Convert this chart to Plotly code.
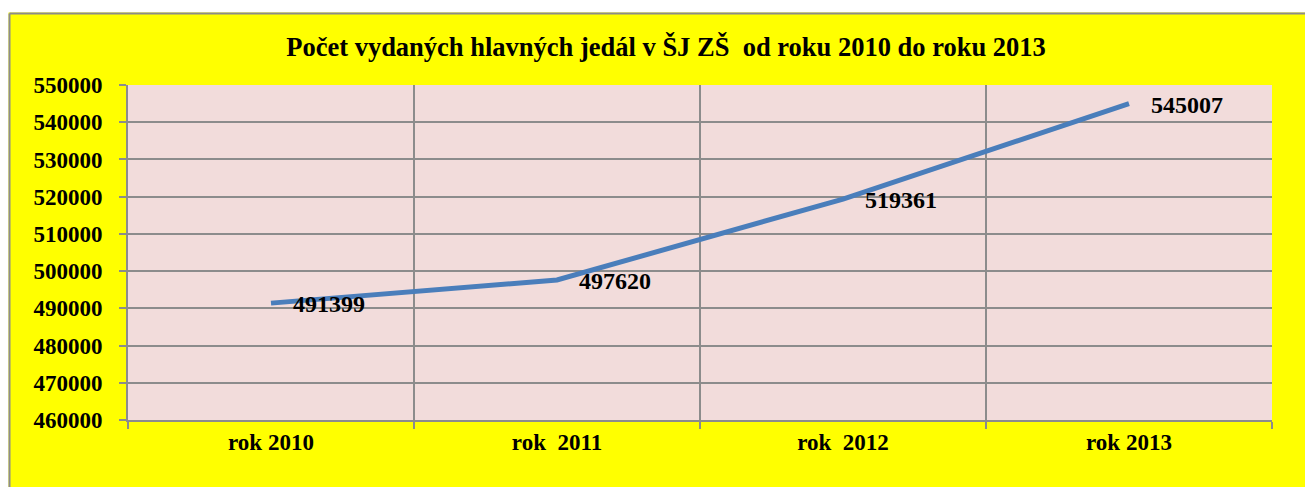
import plotly.graph_objects as go

categories = ["rok 2010", "rok  2011", "rok  2012", "rok 2013"]
values = [491399, 497620, 519361, 545007]
y_ticks = [460000, 470000, 480000, 490000, 500000, 510000, 520000, 530000, 540000, 550000]
title_text = "Počet vydaných hlavných jedál v ŠJ ZŠ  od roku 2010 do roku 2013"

OFF = 8  # page body margin
W, H = 1313, 487 - OFF
L, R = 120, 1313 - 1264
T, B = 77, 67
pw, ph = W - L - R, H - T - B

def px(x):
    return (x - L) / pw

def py(y):
    return (H - B - y) / ph

font_fam = "Liberation Serif, Times New Roman, serif"
grid_col = "#8c8c8c"

xs = list(range(len(categories)))

fig = go.Figure()
fig.add_trace(go.Scatter(
    x=xs, y=values, mode="lines",
    line=dict(color="#4A7EBB", width=5),
    hoverinfo="skip",
))

annotations = [
    dict(x=x, y=v, xref="x", yref="y", text="<b>%d</b>" % v,
         showarrow=False, xanchor="left", yanchor="middle", xshift=20, yshift=-1,
         font=dict(family=font_fam, size=24, color="black"))
    for x, v in zip(xs, values)
]

fig.update_layout(
    width=W, height=H,
    margin=dict(l=L, r=R, t=T, b=B),
    paper_bgcolor="#FFFF00",
    plot_bgcolor="#F2DCDB",
    showlegend=False,
    annotations=annotations,
    title=dict(
        text="<b>" + title_text + "</b>",
        x=658 / W, xanchor="center", xref="container",
        y=1 - 39 / H, yanchor="middle", yref="container",
        font=dict(family=font_fam, size=26.5, color="black"),
    ),
    xaxis=dict(
        range=[-0.5, len(categories) - 0.5],
        tickvals=xs, ticktext=["<b>%s</b>" % c for c in categories],
        showgrid=False, ticks="",
        tickfont=dict(family=font_fam, size=23, color="black"),
        showline=True, linecolor=grid_col, linewidth=2,
        minor=dict(tick0=-0.5, dtick=1, showgrid=True, gridcolor=grid_col,
                   gridwidth=1.5, ticks="outside", ticklen=7, tickcolor=grid_col,
                   tickwidth=2),
        zeroline=False, fixedrange=True,
    ),
    yaxis=dict(
        range=[460000, 550000],
        tickvals=y_ticks, ticktext=["<b>%d</b>" % v for v in y_ticks],
        showgrid=True, gridcolor=grid_col, gridwidth=1.5,
        ticks="outside", ticklen=7, tickcolor=grid_col, tickwidth=2,
        ticklabelstandoff=12,
        tickfont=dict(family=font_fam, size=23, color="black"),
        showline=True, linecolor=grid_col, linewidth=2,
        zeroline=False, fixedrange=True,
    ),
    shapes=[
        dict(type="rect", xref="paper", yref="paper",
             x0=px(-5), x1=px(W + 5), y0=py(-5), y1=py(4.5),
             fillcolor="white", line=dict(width=0), layer="above"),
        dict(type="rect", xref="paper", yref="paper",
             x0=px(-5), x1=px(0.5), y0=py(-5), y1=py(H + 5),
             fillcolor="white", line=dict(width=0), layer="above"),
        dict(type="line", xref="paper", yref="paper",
             x0=px(1.5), x1=px(W + 5), y0=py(5.5), y1=py(5.5),
             line=dict(color="#8c8c8c", width=2), layer="above"),
        dict(type="line", xref="paper", yref="paper",
             x0=px(1.5), x1=px(1.5), y0=py(5.5), y1=py(H + 5),
             line=dict(color="#8c8c8c", width=2), layer="above"),
    ],
)

fig.write_html("out.html")
